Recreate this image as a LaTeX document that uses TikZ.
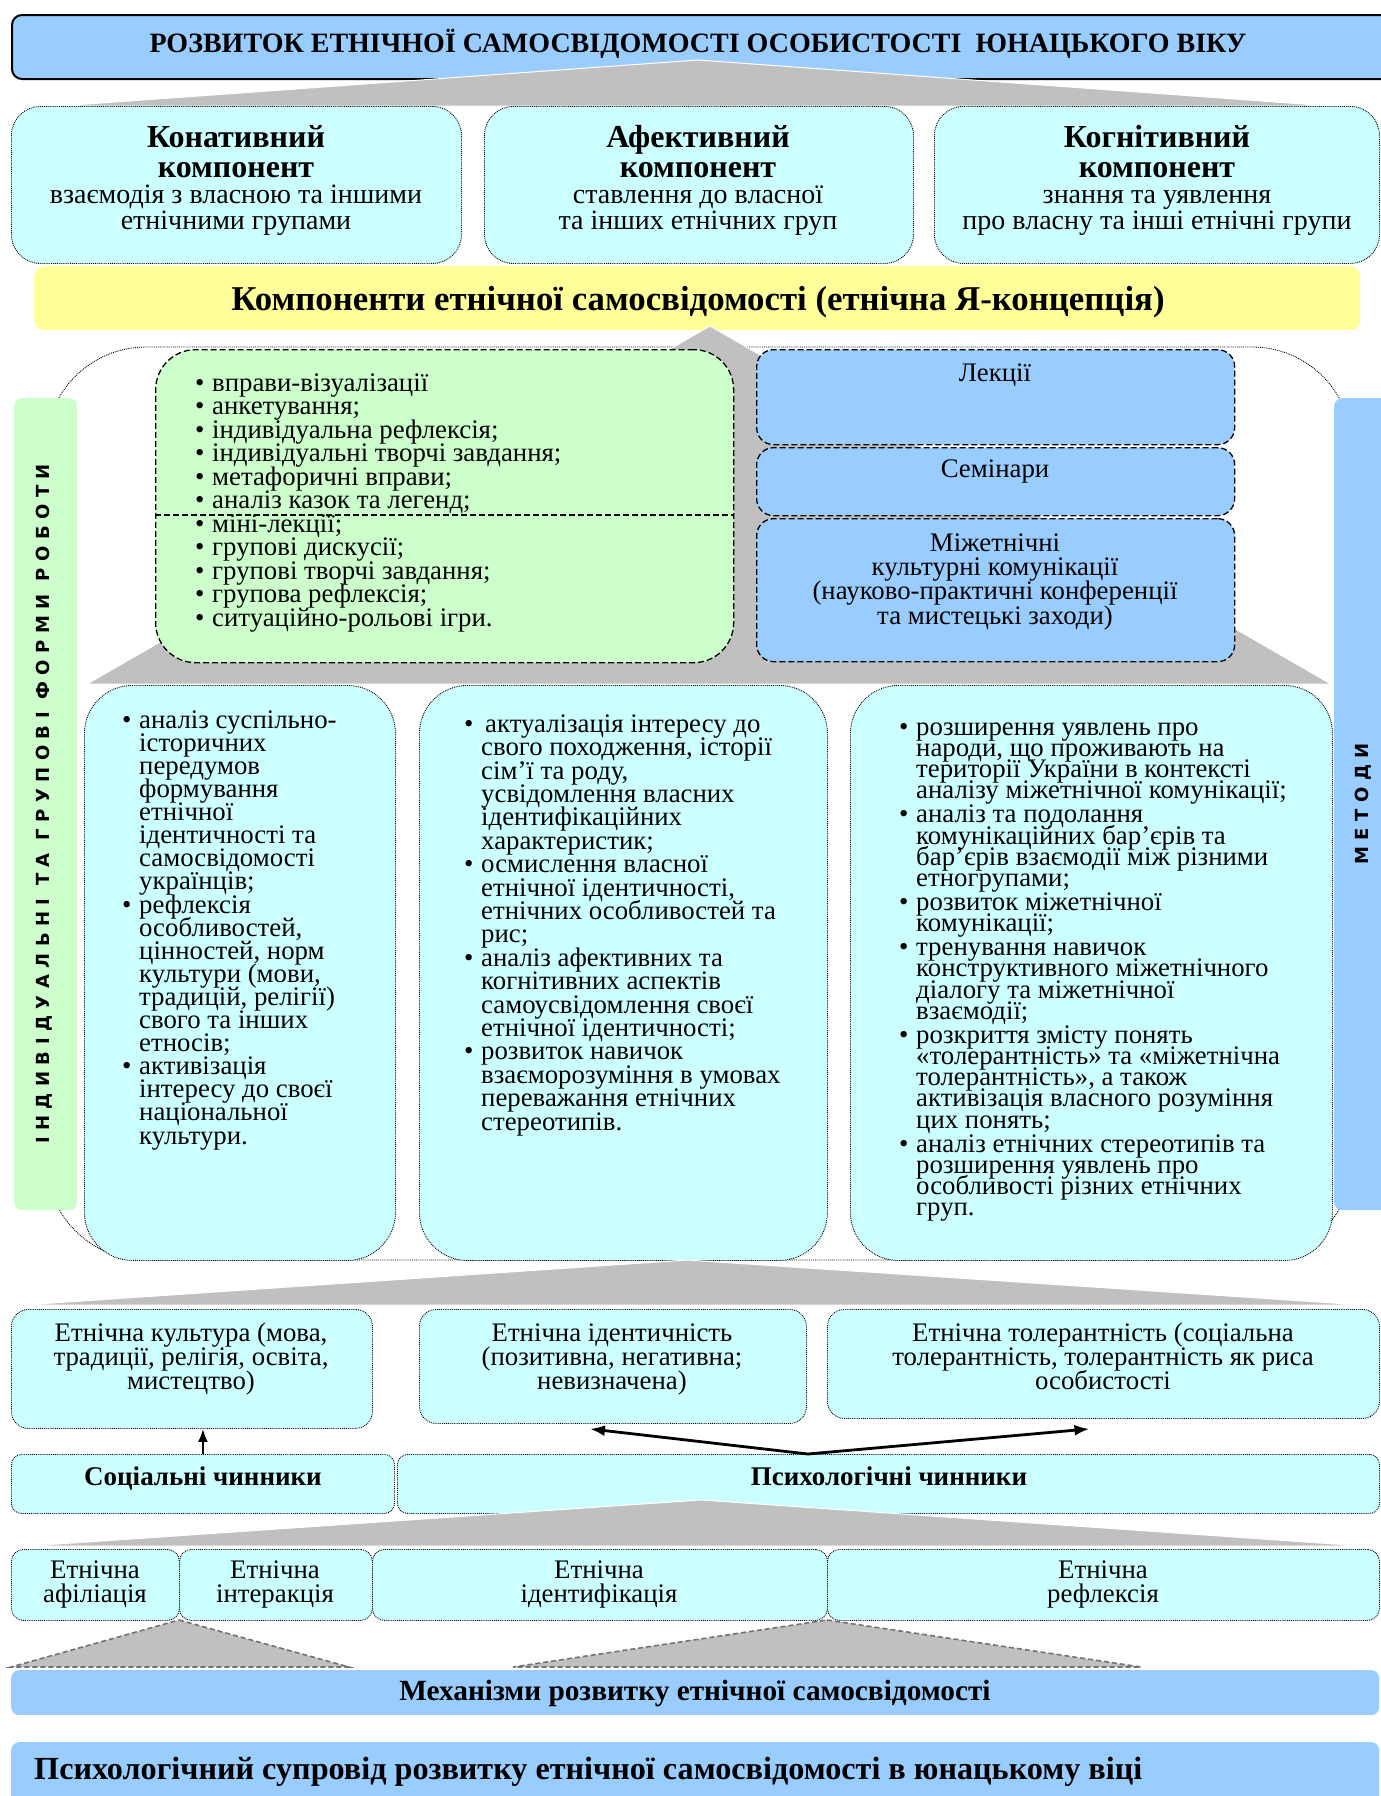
\documentclass[tikz,border=0pt]{standalone}
\usepackage{fontspec}
\setmainfont{Liberation Serif}
\newfontfamily\vsans[LetterSpace=36]{DejaVu Sans}
\usetikzlibrary{arrows.meta,calc}
\definecolor{cBlue}{HTML}{99CCFF}
\definecolor{cCyan}{HTML}{CCFFFF}
\definecolor{cGreen}{HTML}{CCFFCC}
\definecolor{cYellow}{HTML}{FFFF99}
\definecolor{cGray}{HTML}{C0C0C0}
\newcommand\fsz[2]{\fontsize{#1}{#2}\selectfont\lineskiplimit=-100pt\lineskip=0pt\relax}
\newcommand\sr[1]{\rule{0pt}{#1pt}}
\newcommand\bu{\makebox[17pt][l]{\textbullet}}
\newcommand\ind{\hspace*{17pt}}
\newcommand\mkbox[7]{\node[#2,anchor=north west,inner sep=0pt,minimum width={#5-#3},minimum height={#6-#4}] (#1) at (#3,#4) {#7};}
\begin{document}
\begin{tikzpicture}[x=1pt,y=-1pt,
  dotbox/.style={draw=black,densely dotted,line width=0.9pt,fill=cCyan},
  dashbox/.style={draw=black,line width=1.3pt,dash pattern=on 6pt off 3pt},
  tri/.style={fill=cGray,draw=white,line width=1pt},
  tritwo/.style={fill=cGray,draw=black!55,line width=1.6pt,dash pattern=on 5pt off 3pt},
  hdr/.style={anchor=north,inner sep=0pt,align=center,font=\fsz{32}{30}\bfseries},
  desc/.style={anchor=north,inner sep=0pt,align=center,font=\fsz{28}{26}},
  ctr/.style={anchor=north,inner sep=0pt,align=center,font=\fsz{26.8}{24}},
  lst/.style={anchor=north west,inner sep=0pt,align=left},
  vtxt/.style={rotate=90,inner sep=0pt,font=\fsz{18}{18}\vsans\bfseries},
  arr/.style={-{Latex[length=13pt,width=10pt]},line width=2pt},
  arrtwo/.style={{Latex[length=15pt,width=11pt]}-{Latex[length=15pt,width=11pt]},line width=2.8pt}]
\fill[white] (0,0) rectangle (1381,1796);
\useasboundingbox (0,0) rectangle (1381,1796);
\clip (0,0) rectangle (1381,1796);

% title
\mkbox{title}{draw=black,line width=2pt,fill=cBlue,rounded corners=10pt}{11}{14}{1392}{78}{}
\node[anchor=base,inner sep=0pt,font=\fsz{28}{30}\bfseries] (ttl) at (698,52) {РОЗВИТОК ЕТНІЧНОЇ САМОСВІДОМОСТІ ОСОБИСТОСТІ \ ЮНАЦЬКОГО ВІКУ};
\filldraw[tri] (698,60) -- (1330,106) -- (60,106) -- cycle;

% components
\mkbox{kon}{dotbox,rounded corners=29pt}{11}{106}{461}{263}{}
\mkbox{afe}{dotbox,rounded corners=29pt}{484}{106}{913}{263}{}
\mkbox{kog}{dotbox,rounded corners=29pt}{934}{106}{1379}{263}{}
\node[hdr] (konh) at (236,124) {\sr{23}Конативний\\компонент};
\node[desc] (kond) at (236,183) {\sr{20}взаємодія з власною та іншими\\етнічними групами};
\node[hdr] (afeh) at (698,124) {\sr{23}Афективний\\компонент};
\node[desc] (afed) at (698,183) {\sr{20}ставлення до власної\\та інших етнічних груп};
\node[hdr] (kogh) at (1157,124) {\sr{23}Когнітивний\\компонент};
\node[desc] (kogd) at (1157,183) {\sr{20}знання та уявлення\\про власну та інші етнічні групи};

\mkbox{yel}{fill=cYellow,rounded corners=10pt}{34}{266}{1360}{330}{}
\node[anchor=base,inner sep=0pt,font=\fsz{34.8}{34}\bfseries] (yelt) at (698,310) {Компоненти етнічної самосвідомості (етнічна Я-концепція)};

% middle section
\draw[densely dotted,line width=0.9pt,rounded corners=100pt] (46,347) rectangle (1352,1260);
\filldraw[tri] (710,326) -- (1331,684) -- (87,684) -- cycle;

\mkbox{grn}{fill=cGreen,dashbox,rounded corners=40pt}{155}{349}{733}{662}{}
\draw[dashbox] (155,515) -- (733,515);
\node[lst,font=\fsz{26.8}{23.5}] (grnl) at (195,373) {\sr{18}\bu вправи-візуалізації\\
\bu анкетування;\\
\bu індивідуальна рефлексія;\\
\bu індивідуальні творчі завдання;\\
\bu метафоричні вправи;\\
\bu аналіз казок та легенд;\\
\bu міні-лекції;\\
\bu групові дискусії;\\
\bu групові творчі завдання;\\
\bu групова рефлексія;\\
\bu ситуаційно-рольові ігри.};

\mkbox{lek}{fill=cBlue,dashbox,rounded corners=17pt}{756}{349}{1234}{444}{}
\mkbox{sem}{fill=cBlue,dashbox,rounded corners=17pt}{756}{447}{1234}{515}{}
\mkbox{mij}{fill=cBlue,dashbox,rounded corners=17pt}{756}{518}{1234}{661}{}
\node[anchor=base,inner sep=0pt,font=\fsz{26.8}{24}] (lekt) at (995,381) {Лекції};
\node[anchor=base,inner sep=0pt,font=\fsz{26.8}{24}] (semt) at (995,477) {Семінари};
\node[ctr,font=\fsz{26.8}{24.3}] (mijt) at (995,533) {\sr{18}Міжетнічні\\культурні комунікації\\(науково-практичні конференції\\та мистецькі заходи)};

\mkbox{ind}{fill=cGreen,rounded corners=8pt}{14}{398}{77}{1210}{}
\node[vtxt] (indt) at (44,804) {ІНДИВІДУАЛЬНІ ТА ГРУПОВІ ФОРМИ РОБОТИ};
\mkbox{met}{fill=cBlue,rounded corners=8pt}{1334}{398}{1392}{1210}{}
\node[vtxt] (mett) at (1363,804) {МЕТОДИ};

\mkbox{cone}{dotbox,rounded corners=48pt}{84}{685}{395}{1260}{}
\mkbox{ctwo}{dotbox,rounded corners=48pt}{419}{685}{827}{1260}{}
\mkbox{cthr}{dotbox,rounded corners=48pt}{850}{685}{1332}{1260}{}

\node[lst,font=\fsz{26.8}{23.1}] (conel) at (122,710) {\sr{18}\bu аналіз суспільно-\\
\ind історичних\\
\ind передумов\\
\ind формування\\
\ind етнічної\\
\ind ідентичності та\\
\ind самосвідомості\\
\ind українців;\\
\bu рефлексія\\
\ind особливостей,\\
\ind цінностей, норм\\
\ind культури (мови,\\
\ind традицій, релігії)\\
\ind свого та інших\\
\ind етносів;\\
\bu активізація\\
\ind інтересу до своєї\\
\ind національної\\
\ind культури.};

\node[lst,font=\fsz{26.8}{23.4}] (ctwol) at (464,714) {\sr{18}\bu\hspace{4pt}актуалізація інтересу до\\
\ind свого походження, історії\\
\ind сім’ї та роду,\\
\ind усвідомлення власних\\
\ind ідентифікаційних\\
\ind характеристик;\\
\bu осмислення власної\\
\ind етнічної ідентичності,\\
\ind етнічних особливостей та\\
\ind рис;\\
\bu аналіз афективних та\\
\ind когнітивних аспектів\\
\ind самоусвідомлення своєї\\
\ind етнічної ідентичності;\\
\bu розвиток навичок\\
\ind взаєморозуміння в умовах\\
\ind переважання етнічних\\
\ind стереотипів.};

\node[lst,font=\fsz{26.8}{21.2}] (cthrl) at (899,717) {\sr{18}\bu розширення уявлень про\\
\ind народи, що проживають на\\
\ind території України в контексті\\
\ind аналізу міжетнічної комунікації;\\[2.8pt]
\bu аналіз та подолання\\
\ind комунікаційних бар’єрів та\\
\ind бар’єрів взаємодії між різними\\
\ind етногрупами;\\[2.8pt]
\bu розвиток міжетнічної\\
\ind комунікації;\\[2.8pt]
\bu тренування навичок\\
\ind конструктивного міжетнічного\\
\ind діалогу та міжетнічної\\
\ind взаємодії;\\[2.8pt]
\bu розкриття змісту понять\\
\ind «толерантність» та «міжетнічна\\
\ind толерантність», а також\\
\ind активізація власного розуміння\\
\ind цих понять;\\[2.8pt]
\bu аналіз етнічних стереотипів та\\
\ind розширення уявлень про\\
\ind особливості різних етнічних\\
\ind груп.};

% lower part
\filldraw[tri] (687,1260) -- (1363,1305) -- (23,1305) -- cycle;
\mkbox{cult}{dotbox,rounded corners=17pt}{11}{1309}{372}{1428}{}
\mkbox{ident}{dotbox,rounded corners=17pt}{419}{1309}{806}{1423}{}
\mkbox{tol}{dotbox,rounded corners=17pt}{827}{1309}{1379}{1418}{}
\node[ctr] (cultt) at (191,1323) {\sr{18}Етнічна культура (мова,\\традиції, релігія, освіта,\\мистецтво)};
\node[ctr] (identt) at (612,1323) {\sr{18}Етнічна ідентичність\\(позитивна, негативна;\\невизначена)};
\node[ctr] (tolt) at (1103,1323) {\sr{18}Етнічна толерантність (соціальна\\толерантність, толерантність як риса\\особистості};

\mkbox{soc}{dotbox,rounded corners=10pt}{11}{1454}{394}{1513}{}
\mkbox{psy}{dotbox,rounded corners=10pt}{397}{1454}{1379}{1513}{}
\node[anchor=base,inner sep=0pt,font=\fsz{27}{27}\bfseries] (soct) at (203,1485) {Соціальні чинники};
\node[anchor=base,inner sep=0pt,font=\fsz{27}{27}\bfseries] (psyt) at (889,1485) {Психологічні чинники};
\draw[arr] (soc.north) -- (soc.north |- cult.south);
\coordinate (pj) at ($(psy.north west)!0.418!(psy.north east)$);
\draw[arrtwo] ($(ident.south)+(-23,5)$) -- (pj) -- ($(tol.south)+(-14,10)$);

\filldraw[tri] (701,1500) -- (1363,1546) -- (29,1546) -- cycle;
\mkbox{afl}{dotbox,rounded corners=12pt}{11}{1549}{179}{1620}{}
\mkbox{intr}{dotbox,rounded corners=12pt}{179}{1549}{372}{1620}{}
\mkbox{idf}{dotbox,rounded corners=12pt}{372}{1549}{827}{1620}{}
\mkbox{rfl}{dotbox,rounded corners=12pt}{827}{1549}{1379}{1620}{}
\node[ctr] (aflt) at (95,1560) {\sr{18}Етнічна\\афіліація};
\node[ctr] (intrt) at (275,1560) {\sr{18}Етнічна\\інтеракція};
\node[ctr] (idft) at (599,1560) {\sr{18}Етнічна\\ідентифікація};
\node[ctr] (rflt) at (1103,1560) {\sr{18}Етнічна\\рефлексія};

\filldraw[tritwo] (179,1620) -- (349,1667) -- (11,1667) -- cycle;
\filldraw[tritwo] (827,1620) -- (1141,1667) -- (513,1667) -- cycle;

\mkbox{mech}{fill=cBlue,rounded corners=8pt}{11}{1670}{1379}{1715}{}
\node[anchor=base,inner sep=0pt,font=\fsz{29.3}{29}\bfseries] (mecht) at (695,1700) {Механізми розвитку етнічної самосвідомості};
\mkbox{psup}{fill=cBlue,rounded corners=8pt}{11}{1742}{1379}{1810}{}
\node[anchor=base west,inner sep=0pt,font=\fsz{32.2}{32}\bfseries] (psupt) at (34,1779) {Психологічний супровід розвитку етнічної самосвідомості в юнацькому віці};
\end{tikzpicture}
\end{document}
